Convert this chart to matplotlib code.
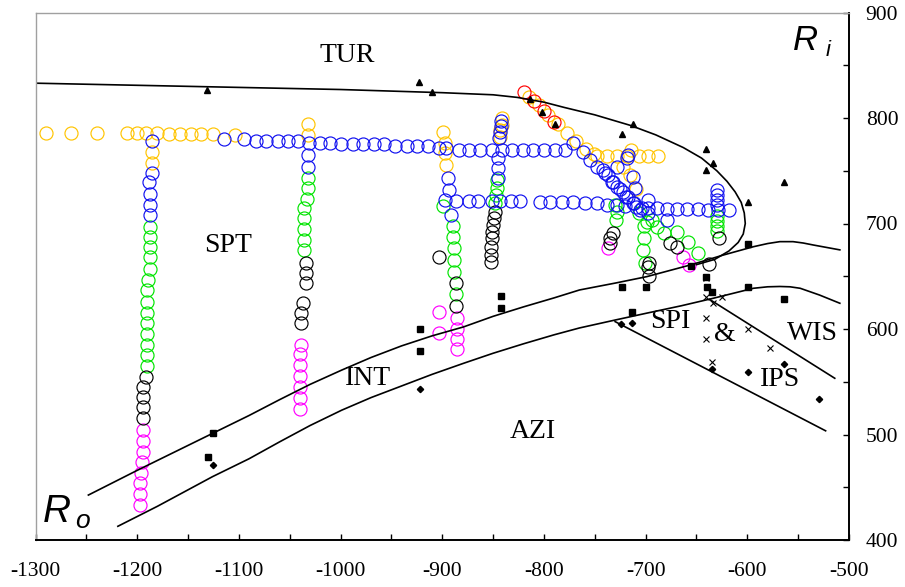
import matplotlib
matplotlib.use("Agg")
import matplotlib.pyplot as plt
from matplotlib.ticker import MultipleLocator, FuncFormatter

plt.rcParams['axes.unicode_minus'] = False
plt.rcParams['font.family'] = ['Liberation Serif', 'DejaVu Serif']

# ---------------- data ----------------
# boundary curves
tur_x = [-1300, -1200, -1100, -1000, -900, -850, -826, -800, -780, -750, -715, -690,
         -663, -645, -630, -620, -612, -606, -603, -602, -604, -609, -618, -632, -650]
tur_y = [833, 831, 829, 827, 824, 822, 819.5, 815, 810, 803, 793, 784,
         772, 762, 750, 740, 730, 720, 710, 700, 690, 682, 674, 666, 661]

int_up_x = [-1248, -1200, -1126, -1090, -1060, -1030, -999, -970, -940, -910, -879, -850,
            -820, -790, -765, -730, -699, -656, -624, -594, -580, -568, -555, -545, -535, -509]
int_up_y = [442.6, 466, 501, 518, 533, 547.5, 561, 573, 584, 593.5, 602, 612,
            621, 629.5, 637, 643.5, 649.6, 660.7, 670, 678, 681, 682.8, 682.8, 681.5, 679.6, 675]

int_lo_x = [-1219, -1180, -1126, -1090, -1060, -1030, -999, -970, -940, -910, -879, -850,
            -820, -790, -765, -730, -699, -665, -634, -594, -580, -568, -558, -548, -529, -509]
int_lo_y = [413, 432, 460, 477, 493, 508.5, 523, 535, 546, 557, 567.5, 577,
            586, 594.5, 601, 608.5, 615, 622, 629, 638.6, 640, 640.3, 640, 638.6, 632.2, 624.4]

spi_x = [-730, -523]
spi_y = [607, 503.5]
ips_x = [-637, -514]
ips_y = [628, 553.3]

# black symbols
tri_x = [-1131, -922.6, -910, -813.8, -802.3, -789, -723, -712.8, -641, -634, -641, -563.7, -599.7]
tri_y = [827, 834.4, 824.4, 818.2, 806, 794, 784.5, 794, 770.6, 757, 750.7, 739.3, 720.7]

sq_x = [-1125, -1130.8, -922.3, -922.3, -842.3, -842.3, -723.6, -699.7, -713.2, -655.4,
        -640.6, -640, -634.5, -599.7, -599.7, -563.7]
sq_y = [501, 478.7, 600, 579.5, 631.6, 620, 640, 640, 616.4, 659.7,
        649, 640, 635.4, 680.6, 640, 628.4]

dia_x = [-1125, -922.3, -724.6, -713.2, -634.5, -599.7, -563.7, -529.6]
dia_y = [471, 543, 604.7, 605.4, 561.8, 559.5, 566.5, 533.4]

crs_x = [-640.6, -640.6, -625, -633.5, -640.6, -640.6, -599.7, -577.8, -634.5]
crs_y = [648, 630.6, 630, 624.4, 610.7, 590.2, 600, 581.7, 569]

# open-circle series
yel_x = [-1290, -1265, -1239.5, -1210, -1200, -1191, -1181, -1169, -1158, -1147, -1137, -1125, -1104,
         -1185, -1185,
         -1032, -1032,
         -899, -897, -897, -896,
         -841.6, -841.6, -843, -843,
         -815, -805, -796, -786, -777, -768, -759, -751,
         -748, -738, -728.5, -718.7, -707, -697.4, -687.6,
         -714, -722, -715, -709]
yel_y = [786, 786, 786, 786, 786, 786, 786, 785, 785, 785, 785, 785, 784,
         767.5, 757.7,
         794.3, 784,
         787, 776, 766.5, 755.4,
         799.7, 793.4, 788.6, 782.3,
         820, 812, 803, 794, 786, 778, 771, 766,
         764, 764, 764, 764, 764, 764, 764,
         770, 754, 746, 733]

red_x = [-819.6, -810, -800, -790]
red_y = [825, 816, 807, 796]

blu_x = [-1185, -1185, -1188, -1187, -1187, -1187,
         -1115, -1095, -1083, -1073, -1062, -1052, -1042, -1031, -1020, -1010, -1000, -988,
         -978, -967, -957, -946, -935, -925, -914, -903, -896, -884, -873.5, -863, -851,
         -841, -831, -821, -810.5, -800, -789, -779,
         -1032, -1032,
         -894, -893, -891,
         -842, -842, -843, -844, -845, -845, -845,
         -897, -886, -874, -864.5, -851.4, -843, -832, -823.6, -803.8, -794, -782.5, -771,
         -759.6, -748, -738, -728.5, -720, -709, -697.4, -689, -679.4, -669.5, -659.7,
         -648.3, -638.5, -628.6, -618,
         -630, -630, -630, -630,
         -771, -762, -755, -748, -740, -732, -725.3, -719, -711, -704, -697.6,
         -742, -737, -733.5, -728.5, -722, -717, -712, -705.6,
         -728.5, -718.7, -717, -712.2, -710.5, -697.4, -679.4]
blu_y = [778.5, 747.6, 739.6, 728, 717.5, 708,
         780, 780.5, 778.5, 778.5, 778.5, 778.5, 778.5, 776, 776, 776, 775.5, 775.4,
         775.4, 775.4, 775.4, 773, 773, 773, 773, 771.5, 772, 770, 770, 770, 770,
         770, 770, 770, 770, 770, 770, 770,
         765, 753.8,
         742.8, 732, 708,
         797, 792, 787, 781, 761.8, 752.3, 742.8,
         722, 721, 721, 721, 721, 721, 721, 721, 720.7, 720, 720, 720,
         719, 719, 718, 718, 717, 716, 715, 715, 714, 714, 714,
         714, 713, 713, 713,
         731.7, 727, 722.3, 717.5,
         776.6, 768, 760, 754, 747.6, 739.6, 732.4, 725.4, 719, 714.4, 709.7,
         750.7, 746, 739.6, 734.9, 730, 725.4, 719, 712.8,
         753.8, 761.8, 765, 744.4, 733.4, 722.3, 703.3]

grn_x = [-1187, -1187, -1187, -1187, -1187, -1189, -1190, -1190, -1190, -1190, -1190, -1190, -1190, -1190,
         -1032, -1032, -1033, -1036, -1036, -1036, -1036, -1036,
         -899, -889, -889, -888, -888, -888, -886.5,
         -846, -846, -847, -848,
         -730, -729, -728.5,
         -707, -702, -702, -703, -700.8,
         -699, -694, -689, -682, -669.5, -658, -648.3,
         -630, -630, -630, -630]
grn_y = [697, 687.5, 677.4, 667.8, 657.3, 646.9, 636.8, 625.9, 615.4, 605.4, 595.3, 584.8, 575.4, 564.9,
         742.8, 733.4, 722.9, 714.4, 704.9, 694.5, 684.4, 674.9,
         716.6, 697.6, 687.5, 676.5, 665.4, 654.3, 633.2,
         741.2, 733.4, 727, 719,
         717.5, 703.3, 711,
         709.7, 698, 686, 675, 662.3,
         701.7, 703.3, 697, 690.7, 692.2, 682.7, 671.7,
         707, 702, 697.7, 692.9]

blk_x = [-1191, -1194, -1194, -1194, -1194,
         -1034, -1034, -1034, -1037, -1039, -1039,
         -903, -886.5, -886.5,
         -848, -849, -850, -851, -851, -852, -852, -852,
         -732, -735, -735, -697, -698, -697, -676, -669.5, -638, -627.5]
blk_y = [554.8, 545.3, 535.8, 525.8, 515.4,
         662.3, 652.8, 643.3, 624.4, 615.5, 605.4,
         668, 643.3, 622.1,
         711.2, 705, 698.6, 692.2, 686, 678, 670.1, 663.2,
         690.7, 686, 681.2, 662.8, 659, 650, 681.2, 678, 661.6, 686]

mag_x = [-1194, -1194, -1194, -1195, -1196, -1197, -1197, -1197,
         -1039, -1040, -1040, -1040, -1040, -1040, -1040,
         -903, -903, -885.5, -885.5, -885.5, -885.5,
         -737, -663, -657]
mag_y = [504.3, 494.1, 483.7, 474.2, 463.8, 453.7, 443.6, 433.2,
         584.8, 576.3, 565.9, 555.5, 545.3, 534.3, 524.2,
         616.4, 595.9, 610.1, 599.7, 590.2, 580.8,
         676.5, 668.5, 660.5]

region_labels = ["TUR", "SPT", "INT", "AZI", "SPI", "&", "WIS", "IPS"]
region_x = [-993, -1111, -973, -811, -676, -622, -536, -568]
region_y = [859, 679, 553, 503, 607.5, 595, 596, 552]

# ---------------- figure ----------------
fig = plt.figure(figsize=(9.05, 5.87), dpi=100)
ax = fig.add_axes([35.5 / 905, 47 / 587, (849 - 35.5) / 905, (540 - 12.5) / 587])
ax.set_xlim(-1300, -500)
ax.set_ylim(400, 900)

ms = 9.4
mew = 0.85
circ = dict(linestyle='none', marker='o', markersize=ms, markerfacecolor='none', markeredgewidth=mew)
ax.plot(yel_x, yel_y, markeredgecolor='#FFC400', **circ)
ax.plot(grn_x, grn_y, markeredgecolor='#00E400', **circ)
ax.plot(mag_x, mag_y, markeredgecolor='#FF00FF', **circ)
ax.plot(blk_x, blk_y, markeredgecolor='#000000', **circ)
ax.plot(blu_x, blu_y, markeredgecolor='#1010F0', **circ)
ax.plot(red_x, red_y, markeredgecolor='#FF0000', **circ)

lk = dict(color='black', linewidth=1.2)
ax.plot(tur_x, tur_y, **lk)
ax.plot(int_up_x, int_up_y, **lk)
ax.plot(int_lo_x, int_lo_y, **lk)
ax.plot(spi_x, spi_y, **lk)
ax.plot(ips_x, ips_y, **lk)

ax.plot(tri_x, tri_y, linestyle='none', marker='^', markersize=4.5, color='black')
ax.plot(sq_x, sq_y, linestyle='none', marker='s', markersize=4.5, color='black')
ax.plot(dia_x, dia_y, linestyle='none', marker='D', markersize=3.2, color='black')
ax.plot(crs_x, crs_y, linestyle='none', marker='x', markersize=4.5, color='black', markeredgewidth=0.8)

for lab, x, y in zip(region_labels, region_x, region_y):
    ax.text(x, y, lab, ha='center', va='center', fontsize=20, family=['Liberation Serif'])

ax.text(-543, 873, "R", ha='center', va='center', fontsize=25, style='italic', family=['Liberation Sans'])
ax.text(-521, 864, "i", ha='center', va='center', fontsize=16, style='italic', family=['Liberation Sans'])
ax.text(-1279, 427, "R", ha='center', va='center', fontsize=28, style='italic', family=['Liberation Sans'])
ax.text(-1254, 418, "o", ha='center', va='center', fontsize=19, style='italic', family=['Liberation Sans'])

# axes styling
ax.xaxis.set_major_locator(MultipleLocator(100))
ax.xaxis.set_minor_locator(MultipleLocator(50))
ax.yaxis.set_major_locator(MultipleLocator(100))
ax.yaxis.set_minor_locator(MultipleLocator(50))
ax.xaxis.set_major_formatter(FuncFormatter(lambda v, p: "%d" % v))
ax.yaxis.set_major_formatter(FuncFormatter(lambda v, p: "%d" % v))
ax.yaxis.tick_right()
ax.tick_params(axis='both', which='both', direction='in', length=4.5, width=1.0, color='black')
ax.tick_params(axis='x', which='major', labelsize=15.5, pad=16, labelfontfamily='Liberation Serif')
ax.tick_params(axis='y', which='major', labelsize=15.5, pad=12, labelfontfamily='Liberation Serif')

ax.spines['left'].set_color('#a0a0a0')
ax.spines['top'].set_color('#a0a0a0')
ax.spines['left'].set_linewidth(1.0)
ax.spines['top'].set_linewidth(1.0)
ax.spines['right'].set_linewidth(1.4)
ax.spines['bottom'].set_linewidth(1.4)

fig.savefig("out.png", dpi=100)
